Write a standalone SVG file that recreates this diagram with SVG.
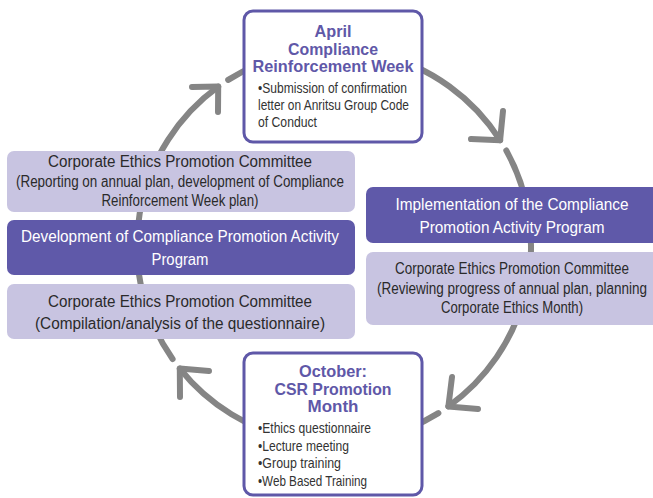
<svg xmlns="http://www.w3.org/2000/svg" width="653" height="498" viewBox="0 0 653 498">
<style>
.arc{fill:none;stroke:#858585;stroke-width:6;stroke-linecap:round;stroke-linejoin:round}
.key{fill:#fff;stroke:#5f58a8;stroke-width:3}
.dark{fill:#5f59a9}
.light{fill:#c8c4e1}
text{font-family:"Liberation Sans",Arial,sans-serif}
.ttl{font-size:16.5px;font-weight:bold;fill:#5f58a8;text-anchor:middle}
.bul{font-size:14.5px;fill:#333}
.lt{font-size:16px;fill:#2a2a2a;text-anchor:middle}
.wt{font-size:16px;fill:#fff;text-anchor:middle}
</style>
<g id="connectors">
<path class="arc" d="M172.6,359 A197,197 0 0 1 218.2,86.6"/>
<path class="arc" d="M228.2,79.9 A197,197 0 0 1 500.1,140.2"/>
<path class="arc" d="M506.3,150.5 A197,197 0 0 1 448.4,406.4"/>
<path class="arc" d="M438.4,413.1 A197,197 0 0 1 179.8,368.6"/>
<polyline class="arc" points="192,87 218.2,86.6 218,112"/>
<polyline class="arc" points="503,111 500.1,140.2 471,139"/>
<polyline class="arc" points="452,377 448.4,406.4 478,409"/>
<polyline class="arc" points="209,371 179.8,368.6 180,397"/>
</g>
<g id="april">
<rect class="key" x="244" y="11" width="178" height="131" rx="9"/>
<text class="ttl" x="333" y="37" textLength="37" lengthAdjust="spacingAndGlyphs">April</text>
<text class="ttl" x="333" y="55" textLength="90" lengthAdjust="spacingAndGlyphs">Compliance</text>
<text class="ttl" x="333" y="72" textLength="161" lengthAdjust="spacingAndGlyphs">Reinforcement Week</text>
<text class="bul" x="258" y="93" textLength="149" lengthAdjust="spacingAndGlyphs">•Submission of confirmation</text>
<text class="bul" x="258" y="110" textLength="151" lengthAdjust="spacingAndGlyphs">letter on Anritsu Group Code</text>
<text class="bul" x="258" y="127" textLength="59" lengthAdjust="spacingAndGlyphs">of Conduct</text>
</g>
<g id="left1">
<rect class="light" x="7" y="151" width="348" height="61" rx="7"/>
<text class="lt" x="180" y="167" textLength="264" lengthAdjust="spacingAndGlyphs">Corporate Ethics Promotion Committee</text>
<text class="lt" x="180" y="187" textLength="328" lengthAdjust="spacingAndGlyphs">(Reporting on annual plan, development of Compliance</text>
<text class="lt" x="180" y="206" textLength="157" lengthAdjust="spacingAndGlyphs">Reinforcement Week plan)</text>
</g>
<g id="left2">
<rect class="dark" x="7" y="220" width="348" height="55" rx="7"/>
<text class="wt" x="180" y="242" textLength="318" lengthAdjust="spacingAndGlyphs">Development of Compliance Promotion Activity</text>
<text class="wt" x="180" y="265" textLength="57" lengthAdjust="spacingAndGlyphs">Program</text>
</g>
<g id="left3">
<rect class="light" x="7" y="284" width="348" height="55" rx="7"/>
<text class="lt" x="180" y="307" textLength="264" lengthAdjust="spacingAndGlyphs">Corporate Ethics Promotion Committee</text>
<text class="lt" x="180" y="329" textLength="290" lengthAdjust="spacingAndGlyphs">(Compilation/analysis of the questionnaire)</text>
</g>
<g id="right1">
<rect class="dark" x="366" y="187" width="295" height="56" rx="7"/>
<text class="wt" x="512" y="210" textLength="233" lengthAdjust="spacingAndGlyphs">Implementation of the Compliance</text>
<text class="wt" x="512" y="233" textLength="185" lengthAdjust="spacingAndGlyphs">Promotion Activity Program</text>
</g>
<g id="right2">
<rect class="light" x="366" y="252" width="295" height="73" rx="7"/>
<text class="lt" x="512" y="274" textLength="234" lengthAdjust="spacingAndGlyphs">Corporate Ethics Promotion Committee</text>
<text class="lt" x="512" y="294" textLength="270" lengthAdjust="spacingAndGlyphs">(Reviewing progress of annual plan, planning</text>
<text class="lt" x="512" y="313" textLength="142" lengthAdjust="spacingAndGlyphs">Corporate Ethics Month)</text>
</g>
<g id="october">
<rect class="key" x="244" y="353" width="178" height="142" rx="9"/>
<text class="ttl" x="333" y="377" textLength="68" lengthAdjust="spacingAndGlyphs">October:</text>
<text class="ttl" x="333" y="395" textLength="117" lengthAdjust="spacingAndGlyphs">CSR Promotion</text>
<text class="ttl" x="333" y="412" textLength="51" lengthAdjust="spacingAndGlyphs">Month</text>
<text class="bul" x="258" y="433" textLength="113" lengthAdjust="spacingAndGlyphs">•Ethics questionnaire</text>
<text class="bul" x="258" y="451" textLength="91" lengthAdjust="spacingAndGlyphs">•Lecture meeting</text>
<text class="bul" x="258" y="468" textLength="83" lengthAdjust="spacingAndGlyphs">•Group training</text>
<text class="bul" x="258" y="486" textLength="109" lengthAdjust="spacingAndGlyphs">•Web Based Training</text>
</g>
</svg>
